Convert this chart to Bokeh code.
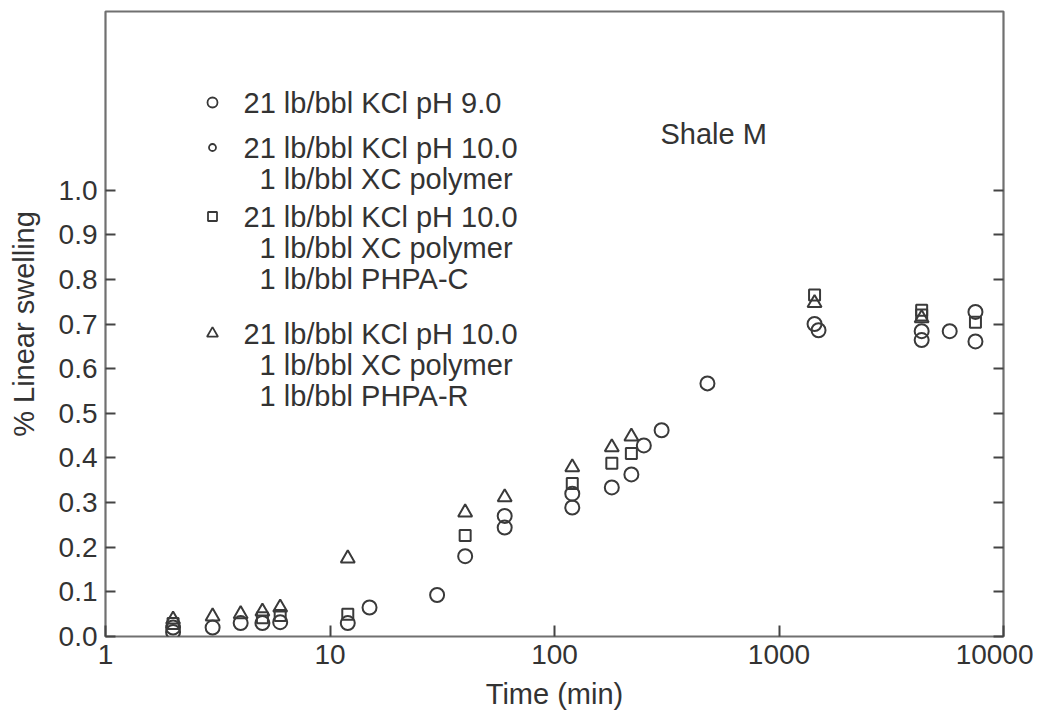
from bokeh.plotting import figure
from bokeh.models import (FixedTicker, LinearAxis, Range1d, Label,
                          CustomJSTickFormatter, PrintfTickFormatter)
from bokeh.embed import file_html
from bokeh.resources import INLINE

# ---------------- data ----------------
x_ticks = [1, 10, 100, 1000, 10000]
y_ticks = [0.0, 0.1, 0.2, 0.3, 0.4, 0.5, 0.6, 0.7, 0.8, 0.9, 1.0]

# 21 lb/bbl KCl pH 9.0  (open circle)
s1_time = [2, 3, 4, 5, 6, 12, 15, 30, 40, 60, 120, 180, 220, 250, 300, 480, 1500, 4320, 5760, 7500]
s1_swell = [0.010, 0.020, 0.030, 0.030, 0.032, 0.030, 0.065, 0.093, 0.180, 0.244, 0.289, 0.334,
            0.363, 0.428, 0.462, 0.567, 0.686, 0.664, 0.684, 0.661]

# 21 lb/bbl KCl pH 10.0 + 1 lb/bbl XC polymer  (small circle)
s2_time = [2, 60, 120, 1440, 4320, 7500]
s2_swell = [0.020, 0.270, 0.320, 0.700, 0.684, 0.727]

# ... + 1 lb/bbl PHPA-C  (square)
s3_time = [2, 5, 6, 12, 40, 120, 180, 220, 1440, 4320, 4320, 7500]
s3_swell = [0.029, 0.042, 0.047, 0.050, 0.226, 0.343, 0.388, 0.410, 0.765, 0.731, 0.720, 0.704]

# ... + 1 lb/bbl PHPA-R  (triangle)
s4_time = [2, 3, 4, 5, 6, 12, 40, 60, 120, 180, 220, 1440, 4320]
s4_swell = [0.038, 0.045, 0.050, 0.056, 0.065, 0.175, 0.278, 0.312, 0.379, 0.424, 0.448, 0.747, 0.713]

legend_groups = [
    ["21 lb/bbl KCl pH 9.0"],
    ["21 lb/bbl KCl pH 10.0", "1 lb/bbl XC polymer"],
    ["21 lb/bbl KCl pH 10.0", "1 lb/bbl XC polymer", "1 lb/bbl PHPA-C"],
    ["21 lb/bbl KCl pH 10.0", "1 lb/bbl XC polymer", "1 lb/bbl PHPA-R"],
]
annotation_text = "Shale M"
x_title = "Time (min)"
y_title = "% Linear swelling"

# ---------------- styling / layout ----------------
FONT = "Liberation Sans"
INK = "#333333"
FRAME_L, FRAME_T, FRAME_W, FRAME_H = 105, 11, 898, 625   # page pixels of the plot frame
X0, X1 = 1, 10000
Y0, Y1 = 0.0, 1.40


def px_x(px):
    """page pixel -> data x (log axis)"""
    return 10 ** (4 * (px - FRAME_L) / FRAME_W)


def px_y(py):
    """page pixel -> data y"""
    return Y1 * (FRAME_T + FRAME_H - py) / FRAME_H


p = figure(x_axis_type="log", x_range=Range1d(X0, X1), y_range=Range1d(Y0, Y1),
           frame_width=FRAME_W, frame_height=FRAME_H,
           min_border_left=FRAME_L, min_border_right=30, min_border_top=FRAME_T, min_border_bottom=75,
           output_backend="svg", toolbar_location=None,
           background_fill_color="white", border_fill_color="white")

p.xgrid.visible = False
p.ygrid.visible = False
p.outline_line_color = "#707070"
p.outline_line_width = 2.2

# bottom axis
xa = p.xaxis[0]
xa.ticker = FixedTicker(ticks=x_ticks)
xa.formatter = CustomJSTickFormatter(code="return Math.round(tick).toString()")
xa.axis_label = x_title
xa.axis_line_color = None
xa.major_tick_in = 11
xa.major_tick_out = 0
xa.major_tick_line_color = "#444444"
xa.major_tick_line_width = 2
xa.minor_tick_line_color = None
xa.major_label_standoff = 8
xa.axis_label_standoff = 11
xa.major_label_text_font = FONT
xa.major_label_text_font_size = "28px"
xa.major_label_text_color = INK
xa.axis_label_text_font = FONT
xa.axis_label_text_font_size = "29px"
xa.axis_label_text_font_style = "normal"
xa.axis_label_text_color = INK

# left axis
ya = p.yaxis[0]
ya.ticker = FixedTicker(ticks=y_ticks)
ya.formatter = PrintfTickFormatter(format="%.1f")
ya.axis_label = y_title
ya.axis_line_color = None
ya.major_tick_in = 10
ya.major_tick_out = 0
ya.major_tick_line_color = "#444444"
ya.major_tick_line_width = 2
ya.minor_tick_line_color = None
ya.major_label_standoff = 8
ya.axis_label_standoff = 16
ya.major_label_text_font = FONT
ya.major_label_text_font_size = "28px"
ya.major_label_text_color = INK
ya.axis_label_text_font = FONT
ya.axis_label_text_font_size = "29px"
ya.axis_label_text_font_style = "normal"
ya.axis_label_text_color = INK

# right axis: inward ticks only
ra = LinearAxis(ticker=FixedTicker(ticks=y_ticks),
                formatter=CustomJSTickFormatter(code="return ''"),
                axis_line_color=None, major_tick_in=10, major_tick_out=0,
                major_tick_line_color="#444444", major_tick_line_width=2,
                minor_tick_line_color=None, major_label_text_font_size="1px")
p.add_layout(ra, "right")

MK = dict(fill_color=None, line_color="#3a3a3a", line_width=2.0)
p.scatter(s1_time, s1_swell, marker="circle", size=14, **MK)
p.scatter(s2_time, s2_swell, marker="circle", size=14, **MK)
p.scatter(s3_time, s3_swell, marker="square", size=11, **MK)
p.scatter(s4_time, s4_swell, marker="triangle", size=14, **MK)

# ---------------- legend (drawn by hand) ----------------
markers = ["circle", "circle", "square", "triangle"]
marker_sizes = [10, 7, 9, 11]
group_first_row = [102, 147, 216, 333]   # page y of first line in each group
LINE_PITCH = 31
KEY_PX = 212
TEXT_PX = 243
INDENT = 16

for g, lines in enumerate(legend_groups):
    y0 = group_first_row[g]
    p.scatter([px_x(KEY_PX)], [px_y(y0)], marker=markers[g], size=marker_sizes[g],
              fill_color=None, line_color="#383838", line_width=1.8)
    for i, t in enumerate(lines):
        p.add_layout(Label(x=px_x(TEXT_PX), y=px_y(y0 + i * LINE_PITCH), text=t,
                           x_offset=0 if i == 0 else INDENT,
                           text_align="left", text_baseline="middle",
                           text_font=FONT, text_font_size="29px", text_color=INK))

p.add_layout(Label(x=px_x(660), y=px_y(133), text=annotation_text,
                   text_align="left", text_baseline="middle",
                   text_font=FONT, text_font_size="29px", text_color=INK))

open("out.html", "w").write(file_html(p, INLINE))
